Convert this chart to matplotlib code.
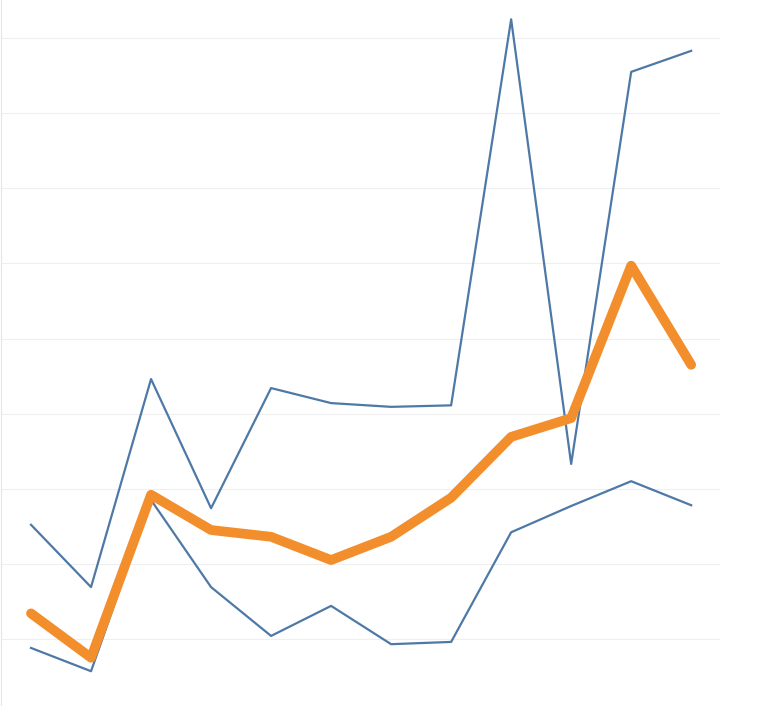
import matplotlib
matplotlib.use('Agg')
import matplotlib.pyplot as plt
import numpy as np

# 12 periods, values
periods = list(range(12))
upper = [25.2, 16.9, 44.6, 27.4, 43.4, 41.4, 40.9, 41.1, 92.5, 33.3, 85.5, 88.3]
middle = [13.4, 7.5, 29.2, 24.5, 23.6, 20.5, 23.6, 28.8, 36.9, 39.4, 59.7, 46.5]
lower = [8.8, 5.7, 28.5, 16.9, 10.4, 14.4, 9.3, 9.6, 24.2, 27.7, 31.0, 27.8]
grid_vals = [10, 20, 30, 40, 50, 60, 70, 80, 90]

fig = plt.figure(figsize=(7.59, 7.06), dpi=100)
ax = fig.add_axes([1 / 759, 0, 719 / 759, 1])

blue = '#4e79a7'
orange = '#f28e2b'
for v in grid_vals:
    ax.axhline(v, color='#efefef', lw=0.8, zorder=0)

ax.plot(periods, upper, color=blue, lw=1.6, zorder=2)
ax.plot(periods, lower, color=blue, lw=1.6, zorder=2)
ax.plot(periods, middle, color=orange, lw=7, solid_capstyle='round',
        solid_joinstyle='round', zorder=3)

ax.set_xlim(-0.5, 11.48)
ax.set_ylim(1.07, 95.07)
ax.set_xticks([])
ax.set_yticks([])
for s in ['top', 'right', 'bottom']:
    ax.spines[s].set_visible(False)
ax.spines['left'].set_color('#e6e6e6')
ax.spines['left'].set_linewidth(0.8)

fig.savefig('out.png', dpi=100)
